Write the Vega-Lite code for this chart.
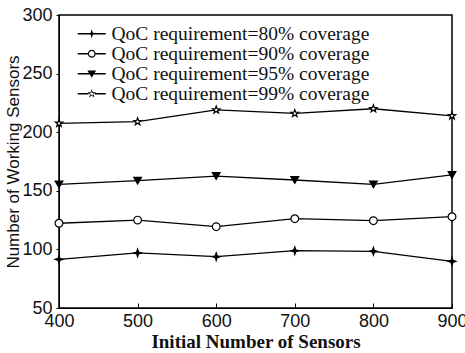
{
  "$schema": "https://vega.github.io/schema/vega-lite/v6.json",
  "width": 393,
  "height": 293,
  "autosize": {"type": "none"},
  "padding": {"left": 59, "top": 15, "right": 13, "bottom": 45},
  "background": "white",
  "config": {
    "view": {"stroke": "black", "strokeWidth": 1.5},
    "axis": {
      "domainColor": "black",
      "tickColor": "black",
      "labelColor": "#111",
      "titleColor": "#111",
      "labelFont": "Liberation Sans",
      "labelFontSize": 18,
      "labelFlush": false,
      "labelOverlap": false,
      "grid": false
    }
  },
  "data": {
    "values": [
      {"n": 400, "series": "QoC requirement=80% coverage", "value": 91.5},
      {"n": 500, "series": "QoC requirement=80% coverage", "value": 97},
      {"n": 600, "series": "QoC requirement=80% coverage", "value": 93.8},
      {"n": 700, "series": "QoC requirement=80% coverage", "value": 98.9},
      {"n": 800, "series": "QoC requirement=80% coverage", "value": 98.4},
      {"n": 900, "series": "QoC requirement=80% coverage", "value": 89.8},
      {"n": 400, "series": "QoC requirement=90% coverage", "value": 122.3},
      {"n": 500, "series": "QoC requirement=90% coverage", "value": 125},
      {"n": 600, "series": "QoC requirement=90% coverage", "value": 119.4},
      {"n": 700, "series": "QoC requirement=90% coverage", "value": 126.2},
      {"n": 800, "series": "QoC requirement=90% coverage", "value": 124.5},
      {"n": 900, "series": "QoC requirement=90% coverage", "value": 127.9},
      {"n": 400, "series": "QoC requirement=95% coverage", "value": 155.5},
      {"n": 500, "series": "QoC requirement=95% coverage", "value": 158.6},
      {"n": 600, "series": "QoC requirement=95% coverage", "value": 162.6},
      {"n": 700, "series": "QoC requirement=95% coverage", "value": 159.2},
      {"n": 800, "series": "QoC requirement=95% coverage", "value": 155.5},
      {"n": 900, "series": "QoC requirement=95% coverage", "value": 163.5},
      {"n": 400, "series": "QoC requirement=99% coverage", "value": 207.6},
      {"n": 500, "series": "QoC requirement=99% coverage", "value": 209},
      {"n": 600, "series": "QoC requirement=99% coverage", "value": 219},
      {"n": 700, "series": "QoC requirement=99% coverage", "value": 216},
      {"n": 800, "series": "QoC requirement=99% coverage", "value": 220},
      {"n": 900, "series": "QoC requirement=99% coverage", "value": 214}
    ]
  },
  "encoding": {
    "x": {
      "field": "n",
      "type": "quantitative",
      "scale": {"domain": [400, 900], "nice": false, "zero": false},
      "axis": {
        "title": "Initial Number of Sensors",
        "titleFont": "Liberation Serif",
        "titleFontSize": 19,
        "titleFontWeight": "bold",
        "values": [400, 500, 600, 700, 800, 900],
        "tickSize": -5,
        "labelPadding": 9,
        "titlePadding": 2
      }
    },
    "y": {
      "field": "value",
      "type": "quantitative",
      "scale": {"domain": [50, 300], "nice": false, "zero": false},
      "axis": {
        "title": "Number of Working Sensors",
        "titleFont": "Liberation Sans",
        "titleFontSize": 17,
        "titleFontWeight": "normal",
        "values": [50, 100, 150, 200, 250, 300],
        "tickSize": 3,
        "labelPadding": 4,
        "titlePadding": -1
      }
    }
  },
  "layer": [
    {
      "mark": {"type": "line", "color": "black", "strokeWidth": 1.3},
      "encoding": {"detail": {"field": "series"}}
    },
    {
      "mark": {"type": "point", "color": "black", "filled": false, "strokeWidth": 1.2, "size": 60, "opacity": 1},
      "encoding": {
        "shape": {
          "field": "series",
          "type": "nominal",
          "scale": {
            "range": [
              "M0,-1L0.25,-0.25L1,0L0.25,0.25L0,1L-0.25,0.25L-1,0L-0.25,-0.25Z",
              "circle",
              "triangle-down",
              "M0,-1L0.235,-0.324L0.951,-0.309L0.380,0.124L0.588,0.809L0,0.4L-0.588,0.809L-0.380,0.124L-0.951,-0.309L-0.235,-0.324Z"
            ]
          },
          "legend": null
        },
        "fill": {
          "field": "series",
          "type": "nominal",
          "scale": {"range": ["black", "white", "black", "white"]},
          "legend": null
        }
      }
    },
    {
      "mark": {"type": "point", "color": "black", "filled": true, "opacity": 0},
      "encoding": {
        "shape": {
          "field": "series",
          "type": "nominal",
          "scale": {
            "range": [
              "M-3.5,-0.16H3.5V0.16H-3.5ZM0,-1.1L0.28,-0.28L1.1,0L0.28,0.28L0,1.1L-0.28,0.28L-1.1,0L-0.28,-0.28Z",
              "M-3.5,-0.16H-1V0.16H-3.5ZM1,-0.16H3.5V0.16H1ZM1,0A1,1 0 1,1 -1,0A1,1 0 1,1 1,0ZM0.7,0A0.7,0.7 0 1,0 -0.7,0A0.7,0.7 0 1,0 0.7,0Z",
              "M-3.5,-0.16H3.5V0.16H-3.5ZM-1.1,-0.8L1.1,-0.8L0,1Z",
              "M-3.5,-0.16H-0.8V0.16H-3.5ZM0.8,-0.16H3.5V0.16H0.8ZM0,-1.15L0.259,-0.356L1.094,-0.355L0.418,0.136L0.676,0.93L0,0.44L-0.676,0.93L-0.418,0.136L-1.094,-0.355L-0.259,-0.356ZM0,-0.633L-0.142,-0.196L-0.602,-0.195L-0.23,0.075L-0.372,0.512L0,0.242L0.372,0.512L0.23,0.075L0.602,-0.195L0.142,-0.196Z"
            ]
          },
          "legend": {
            "title": null,
            "orient": "none",
            "legendX": 23,
            "legendY": 9,
            "padding": 0,
            "symbolSize": 64,
            "symbolOpacity": 1,
            "symbolStrokeWidth": 0,
            "symbolFillColor": "black",
            "labelOffset": 10,
            "labelFont": "Liberation Serif",
            "labelFontSize": 19.5,
            "labelColor": "#111",
            "labelLimit": 400,
            "rowPadding": -3
          }
        }
      }
    }
  ],
  "resolve": {"scale": {"shape": "independent"}}
}
